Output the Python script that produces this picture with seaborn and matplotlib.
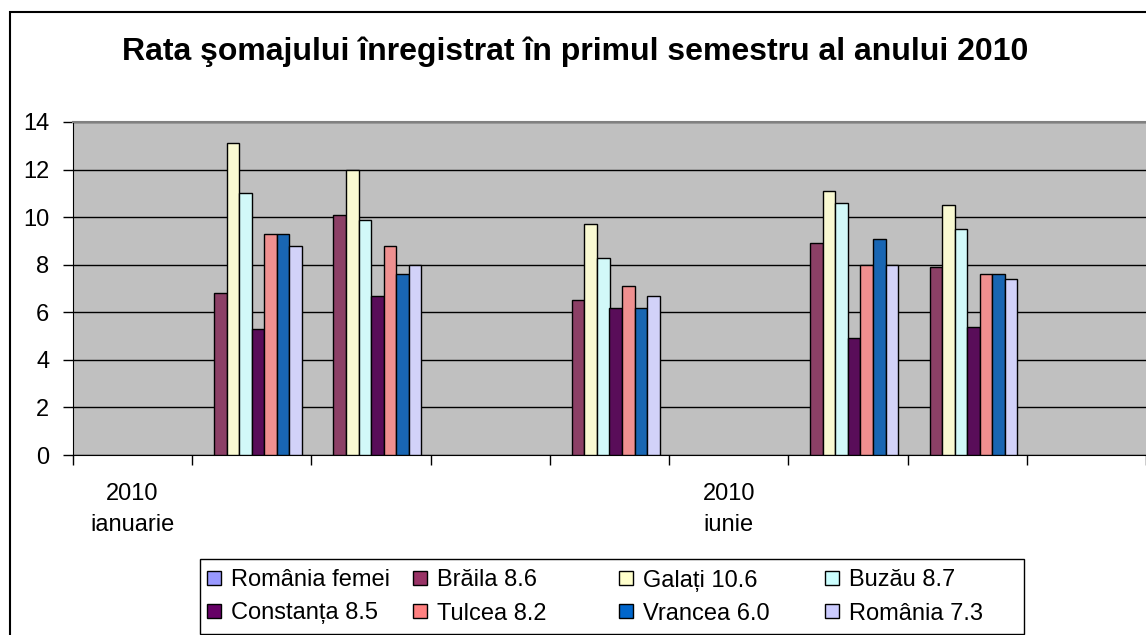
import numpy as np
import pandas as pd
import matplotlib.pyplot as plt
import seaborn as sns
from matplotlib.patches import Rectangle

nan = np.nan

# category slots along the x axis (only two of them carry a label)
categories = ["c1", "c2", "c3", "c4", "c5", "c6", "c7", "c8", "c9"]
tick_labels = ["2010\nianuarie", "", "", "", "", "2010\niunie", "", "", ""]

series = ["România femei", "Brăila 8.6", "Galați 10.6", "Buzău 8.7",
          "Constanța 8.5", "Tulcea 8.2", "Vrancea 6.0", "România 7.3"]
colors = ["#9999FF", "#993366", "#FFFFCC", "#CCFFFF",
          "#660066", "#FF8080", "#0066CC", "#CCCCFF"]

romania_femei = [nan, nan, nan, nan, nan, nan, nan, nan, nan]
braila = [nan, 6.8, 10.1, nan, 6.5, nan, 8.9, 7.9, nan]
galati = [nan, 13.1, 12.0, nan, 9.7, nan, 11.1, 10.5, nan]
buzau = [nan, 11.0, 9.9, nan, 8.3, nan, 10.6, 9.5, nan]
constanta = [nan, 5.3, 6.7, nan, 6.2, nan, 4.9, 5.4, nan]
tulcea = [nan, 9.3, 8.8, nan, 7.1, nan, 8.0, 7.6, nan]
vrancea = [nan, 9.3, 7.6, nan, 6.2, nan, 9.1, 7.6, nan]
romania = [nan, 8.8, 8.0, nan, 6.7, nan, 8.0, 7.4, nan]

values = [romania_femei, braila, galati, buzau, constanta, tulcea, vrancea, romania]

rows = []
for name, vals in zip(series, values):
    for cat, v in zip(categories, vals):
        rows.append({"luna": cat, "serie": name, "rata": v})
df = pd.DataFrame(rows).dropna()

sns.set_style("white")
plt.rcParams["font.family"] = ["Liberation Sans", "DejaVu Sans"]
plt.rcParams["text.color"] = "black"
plt.rcParams["xtick.color"] = "black"
plt.rcParams["ytick.color"] = "black"

fig = plt.figure(figsize=(11.46, 6.35), dpi=100)
W, H = 1146, 635
ax = fig.add_axes([73 / W, 1 - 455 / H, (W - 73) / W, (455 - 122) / H])

sns.barplot(data=df, x="luna", y="rata", hue="serie", order=categories,
            hue_order=series, palette=dict(zip(series, colors)),
            width=8 / 9.5, gap=0, errorbar=None, edgecolor="black",
            linewidth=1, legend=False, ax=ax, zorder=3)

ax.set_facecolor("#C0C0C0")
ax.set_xlim(-0.5, -0.5 + (W - 73) / 120)
ax.set_ylim(0, 14)
ax.set_yticks(range(0, 15, 2))
ax.grid(axis="y", color="black", linewidth=1, zorder=1)
ax.set_axisbelow(True)
ax.set_xlabel("")
ax.set_ylabel("")

ax.set_xticks(range(len(categories)))
ax.set_xticklabels(tick_labels, fontsize=17, linespacing=1.55)
ax.set_xticks(np.arange(-0.5, len(categories), 1), minor=True)
ax.tick_params(axis="x", which="major", length=0, pad=20)
ax.tick_params(axis="x", which="minor", length=7, width=1, color="black", direction="out")
ax.tick_params(axis="y", length=7, width=1, color="black", direction="out",
               labelsize=17, pad=10)
ax.tick_params(bottom=True, left=True, which="both")

ax.spines["right"].set_visible(False)
ax.spines["top"].set_color("#808080")
ax.spines["top"].set_linewidth(1.5)
ax.spines["left"].set_color("black")
ax.spines["bottom"].set_color("black")

fig.text(575 / W, 1 - 52 / H, "Rata şomajului înregistrat în primul semestru al anului 2010",
         ha="center", va="center", fontsize=23, fontweight="bold")

# outer chart frame (cut off at right and bottom)
fig.patches.append(Rectangle((10 / W, -0.1), 1.2, 1 - 12 / H + 0.1,
                             transform=fig.transFigure, fill=False,
                             edgecolor="black", linewidth=1.5))

# legend drawn Excel-style: equal-width columns, 2 rows
fig.patches.append(Rectangle((200 / W, 1 - 634 / H), 824 / W, 75 / H,
                             transform=fig.transFigure, facecolor="white",
                             edgecolor="black", linewidth=1))
for i, (name, c) in enumerate(zip(series, colors)):
    col, row = i % 4, i // 4
    x0 = 207 + col * 206
    yc = 578 + row * 33
    fig.patches.append(Rectangle((x0 / W, 1 - (yc + 7) / H), 14 / W, 14 / H,
                                 transform=fig.transFigure, facecolor=c,
                                 edgecolor="black", linewidth=1))
    fig.text((x0 + 24) / W, 1 - yc / H, name, ha="left", va="center_baseline",
             fontsize=17)

fig.savefig("out.png", dpi=100)
